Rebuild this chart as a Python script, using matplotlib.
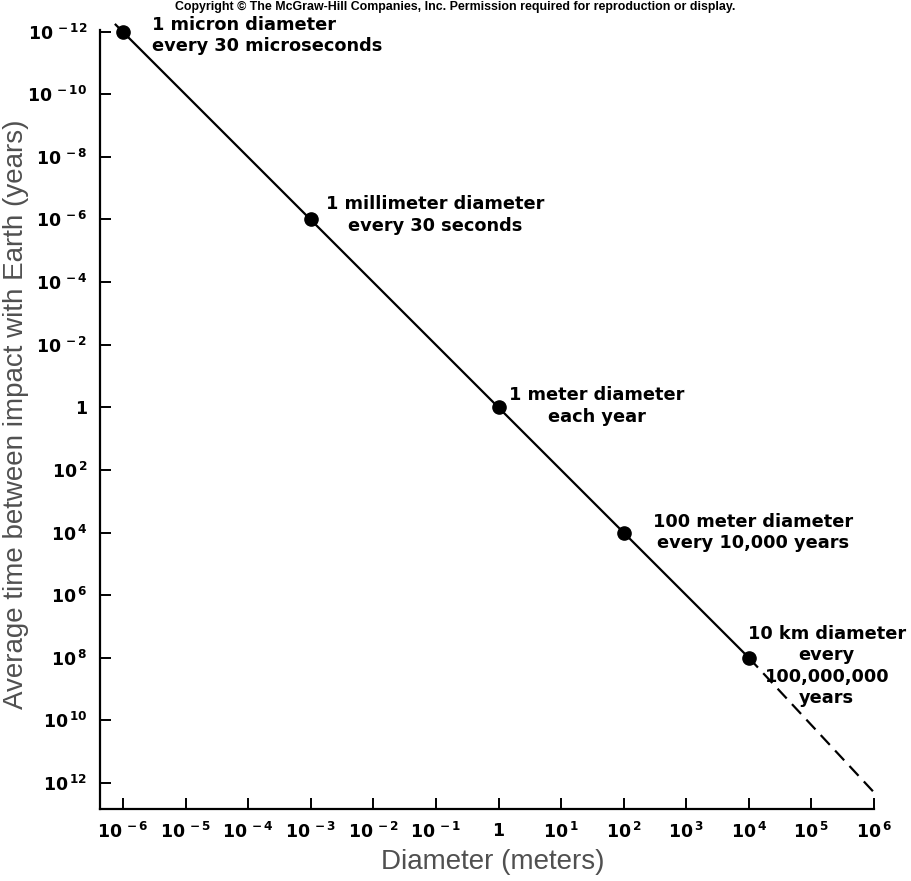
import matplotlib
matplotlib.use("Agg")
import matplotlib.pyplot as plt
import numpy as np

plt.rcParams['font.family'] = ['DejaVu Sans']
plt.rcParams['mathtext.fontset'] = 'custom'
plt.rcParams['mathtext.rm'] = 'DejaVu Sans:bold'
plt.rcParams['mathtext.it'] = 'DejaVu Sans:bold'
plt.rcParams['mathtext.bf'] = 'DejaVu Sans:bold'

# points marques (diametre en m, temps moyen entre impacts en annees)
diam = [1e-6, 1e-3, 1.0, 1e2, 1e4]
years = [1e-12, 1e-6, 1.0, 1e4, 1e8]
labels = ["1 micron diameter\nevery 30 microseconds",
          "1 millimeter diameter\nevery 30 seconds",
          "1 meter diameter\neach year",
          "100 meter diameter\nevery 10,000 years",
          "10 km diameter\nevery\n100,000,000\nyears"]

# trait plein puis extrapolation en tirets
solid_x = [10**-6.12, 1e4]
solid_y = [10**-12.22, 1e8]
dash_x = [1e4, 1e6]
dash_y = [1e8, 10**12.3]

x_exp = list(range(-6, 7))
y_exp = list(range(-12, 13, 2))

fig = plt.figure(figsize=(9.12, 8.81), dpi=100)
ax = fig.add_axes([100/912, 1-809/881, 774/912, 779/881])

ax.plot(solid_x, solid_y, color='black', lw=1.6, clip_on=False)
ax.plot(dash_x, dash_y, color='black', lw=1.6, dashes=(6, 3.5), clip_on=False)
ax.plot(diam, years, 'o', color='black', ms=9.5, clip_on=False, zorder=3)

# position des textes (decalage en pixels depuis le point, alignement)
offs = [(29, 16, 'left'), (124, 24, 'center'), (98, 21, 'center'),
        (129, 20, 'center'), (78, 33, 'center')]
for xv, yv, txt, (dx, dy, ha) in zip(diam, years, labels, offs):
    ax.annotate(txt, xy=(xv, yv), xytext=(dx, dy), textcoords='offset pixels',
                ha=ha, va='top', multialignment=ha, fontsize=12.8,
                fontweight='bold', linespacing=1.25)

ax.set_xscale('log')
ax.set_yscale('log')
ax.set_xlim(10**-6.37, 1e6)
ax.set_ylim(10**12.83, 10**-12.05)

def fmt(e):
    return '1' if e == 0 else r'$10^{\,%d}$' % e

ax.set_xticks([10.0**e for e in x_exp])
ax.set_xticklabels([fmt(e) for e in x_exp])
ax.set_yticks([10.0**e for e in y_exp])
ax.set_yticklabels([fmt(e) for e in y_exp])
ax.minorticks_off()

ax.tick_params(axis='both', direction='in', length=8, width=1.4, labelsize=12.5)
ax.tick_params(axis='x', pad=9)
ax.tick_params(axis='y', pad=9)
for lab in ax.get_xticklabels() + ax.get_yticklabels():
    lab.set_fontweight('bold')

for s in ['top', 'right']:
    ax.spines[s].set_visible(False)
for s in ['left', 'bottom']:
    ax.spines[s].set_linewidth(1.6)

ax.set_xlabel('Diameter (meters)', fontsize=20, color='#505050', va='center',
              family='Liberation Sans')
ax.xaxis.set_label_coords(0.508, -0.068)
ax.set_ylabel('Average time between impact with Earth (years)', fontsize=20,
              color='#505050', va='center', family='Liberation Sans')
ax.yaxis.set_label_coords(-0.108, 0.507)

fig.text(455/912, 1-7/881,
         'Copyright \u00a9 The McGraw-Hill Companies, Inc. Permission required for reproduction or display.',
         ha='center', va='center', fontsize=8.9, fontweight='bold',
         family='Liberation Sans')

plt.savefig("out.png")
plt.close()
